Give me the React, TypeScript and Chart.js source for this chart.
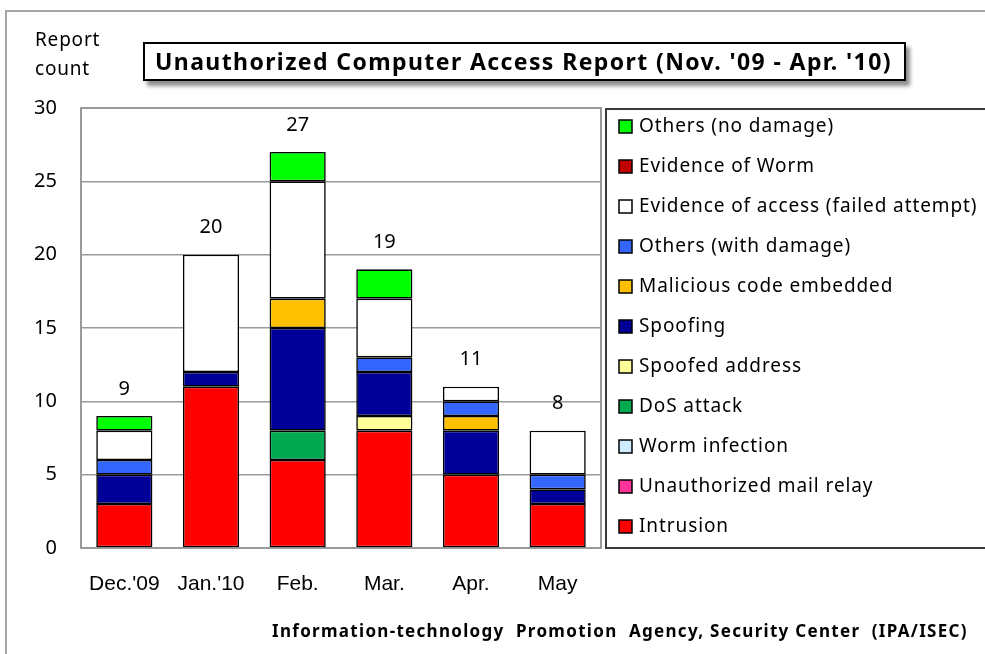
import React, { useEffect, useRef } from "react";
import { Chart, registerables } from "chart.js";

Chart.register(...registerables);

const categories = ["Dec.'09", "Jan.'10", "Feb.", "Mar.", "Apr.", "May"];
const totals = [9, 20, 27, 19, 11, 8];

// stacked bottom -> top
const intrusion = [3, 11, 6, 8, 5, 3];
const mailRelay = [0, 0, 0, 0, 0, 0];
const wormInfection = [0, 0, 0, 0, 0, 0];
const dosAttack = [0, 0, 2, 0, 0, 0];
const spoofedAddress = [0, 0, 0, 1, 0, 0];
const spoofing = [2, 1, 7, 3, 3, 1];
const maliciousCode = [0, 0, 2, 0, 1, 0];
const othersWithDamage = [1, 0, 0, 1, 1, 1];
const evidenceOfAccess = [2, 8, 8, 4, 1, 3];
const evidenceOfWorm = [0, 0, 0, 0, 0, 0];
const othersNoDamage = [1, 0, 2, 2, 0, 0];

const seriesLabels = [
  "Intrusion",
  "Unauthorized mail relay",
  "Worm infection",
  "DoS attack",
  "Spoofed address",
  "Spoofing",
  "Malicious code embedded",
  "Others (with damage)",
  "Evidence of access (failed attempt)",
  "Evidence of Worm",
  "Others (no damage)",
];
const seriesValues = [
  intrusion,
  mailRelay,
  wormInfection,
  dosAttack,
  spoofedAddress,
  spoofing,
  maliciousCode,
  othersWithDamage,
  evidenceOfAccess,
  evidenceOfWorm,
  othersNoDamage,
];
const seriesColors = [
  "#FF0000",
  "#FF3399",
  "#CCECFF",
  "#00A84F",
  "#FFFF99",
  "#000099",
  "#FFC000",
  "#3366FF",
  "#FFFFFF",
  "#C00000",
  "#00FF00",
];

const yTicks = [0, 5, 10, 15, 20, 25, 30];

const TEXT_FONT = "'Noto Sans', 'Open Sans', sans-serif";

const plotFramePlugin = {
  id: "plotFrame",
  beforeDatasetsDraw(chart: any) {
    const { ctx, chartArea } = chart;
    ctx.save();
    ctx.strokeStyle = "#9a9a9a";
    ctx.lineWidth = 2;
    ctx.strokeRect(chartArea.left, chartArea.top, chartArea.right - chartArea.left, chartArea.bottom - chartArea.top);
    ctx.restore();
  },
};

const totalsPlugin = {
  id: "totals",
  afterDatasetsDraw(chart: any) {
    const { ctx, scales } = chart;
    ctx.save();
    ctx.font = `20px ${TEXT_FONT}`;
    ctx.fillStyle = "#000";
    ctx.textAlign = "center";
    ctx.textBaseline = "middle";
    totals.forEach((t, i) => {
      const x = scales.x.getPixelForValue(i);
      const y = scales.y.getPixelForValue(t);
      ctx.fillText(String(t), x, y - 27);
    });
    ctx.restore();
  },
};

const legendPlugin = {
  id: "customLegend",
  afterDraw(chart: any) {
    const { ctx, chartArea, width } = chart;
    const left = chartArea.right + 5;
    ctx.save();
    ctx.strokeStyle = "#3a3a3a";
    ctx.lineWidth = 2;
    ctx.strokeRect(left, chartArea.top + 1, width - left + 10, chartArea.bottom - chartArea.top - 1);
    const ds = chart.data.datasets.slice().reverse();
    ctx.font = `19px ${TEXT_FONT}`;
    ctx.textBaseline = "middle";
    ctx.textAlign = "left";
    ds.forEach((d: any, i: number) => {
      const cy = chartArea.top + 19 + i * 40;
      ctx.fillStyle = d.backgroundColor;
      ctx.fillRect(left + 13, cy - 7, 13, 13);
      ctx.strokeStyle = "#000";
      ctx.lineWidth = 1.5;
      ctx.strokeRect(left + 13, cy - 7, 13, 13);
      ctx.fillStyle = "#000";
      (ctx as any).letterSpacing = "0.9px";
      ctx.fillText(d.label, left + 33, cy);
      (ctx as any).letterSpacing = "0px";
    });
    ctx.restore();
  },
};

export default function App() {
  const canvasRef = useRef<HTMLCanvasElement | null>(null);

  useEffect(() => {
    if (!canvasRef.current) return;
    const chart = new Chart(canvasRef.current, {
      type: "bar",
      data: {
        labels: categories,
        datasets: seriesLabels.map((label, k) => ({
          label,
          data: seriesValues[k].map((v) => (v === 0 ? null : v)),
          backgroundColor: seriesColors[k],
          borderColor: "#000000",
          borderWidth: 1.6,
          borderSkipped: false,
          categoryPercentage: 0.8,
          barPercentage: 0.81,
        })),
      },
      options: {
        responsive: false,
        animation: false,
        layout: { padding: { top: 108, right: 384, left: 0, bottom: 0 } },
        plugins: {
          legend: { display: false },
          tooltip: { enabled: false },
          title: { display: false },
        },
        scales: {
          x: {
            stacked: true,
            grid: { display: false, drawTicks: false },
            border: { display: false },
            ticks: {
              color: "#000",
              font: { family: "'Liberation Sans', Arial, sans-serif", size: 21 },
              padding: 24,
              maxRotation: 0,
              autoSkip: false,
            },
            afterFit(s: any) {
              s.height = 106;
            },
          },
          y: {
            stacked: true,
            min: 0,
            max: 30,
            afterBuildTicks(s: any) {
              s.ticks = yTicks.map((v) => ({ value: v }));
            },
            grid: { color: "#9a9a9a", lineWidth: 1.5, drawTicks: false },
            border: { display: false },
            ticks: {
              color: "#000",
              font: { family: TEXT_FONT, size: 20 },
              padding: 24,
            },
            afterFit(s: any) {
              s.width = 81;
            },
          },
        },
      },
      plugins: [plotFramePlugin, totalsPlugin, legendPlugin],
    });
    return () => chart.destroy();
  }, []);

  return (
    <div
      style={{
        position: "absolute",
        left: 0,
        top: 0,
        width: 985,
        height: 654,
        background: "#fff",
        overflow: "hidden",
      }}
    >
      <div
        style={{
          position: "absolute",
          left: 5,
          top: 10,
          width: 1000,
          height: 700,
          borderLeft: "2px solid #a6a6a6",
          borderTop: "2px solid #a6a6a6",
        }}
      />
      <canvas ref={canvasRef} width={985} height={654} style={{ position: "absolute", left: 0, top: 0 }} />
      <div
        style={{
          position: "absolute",
          left: 35,
          top: 25,
          font: `19px ${TEXT_FONT}`,
          letterSpacing: "0.8px",
          lineHeight: "29px",
          color: "#000",
        }}
      >
        Report
        <br />
        count
      </div>
      <div
        style={{
          position: "absolute",
          left: 143,
          top: 42,
          width: 763,
          height: 39,
          boxSizing: "border-box",
          border: "2px solid #000",
          background: "#fff",
          boxShadow: "4px 5px 4px rgba(0,0,0,0.45)",
          font: `bold 23px ${TEXT_FONT}`,
          letterSpacing: "1.4px",
          lineHeight: "35px",
          paddingLeft: 10,
          color: "#000",
          whiteSpace: "nowrap",
        }}
      >
        Unauthorized Computer Access Report (Nov. '09 - Apr. '10)
      </div>
      <div
        style={{
          position: "absolute",
          left: 272,
          top: 619,
          font: `bold 17px ${TEXT_FONT}`,
          letterSpacing: "1.3px",
          lineHeight: "24px",
          color: "#000",
          whiteSpace: "pre",
        }}
      >
        {"Information-technology  Promotion  Agency, Security Center  (IPA/ISEC)"}
      </div>
    </div>
  );
}
